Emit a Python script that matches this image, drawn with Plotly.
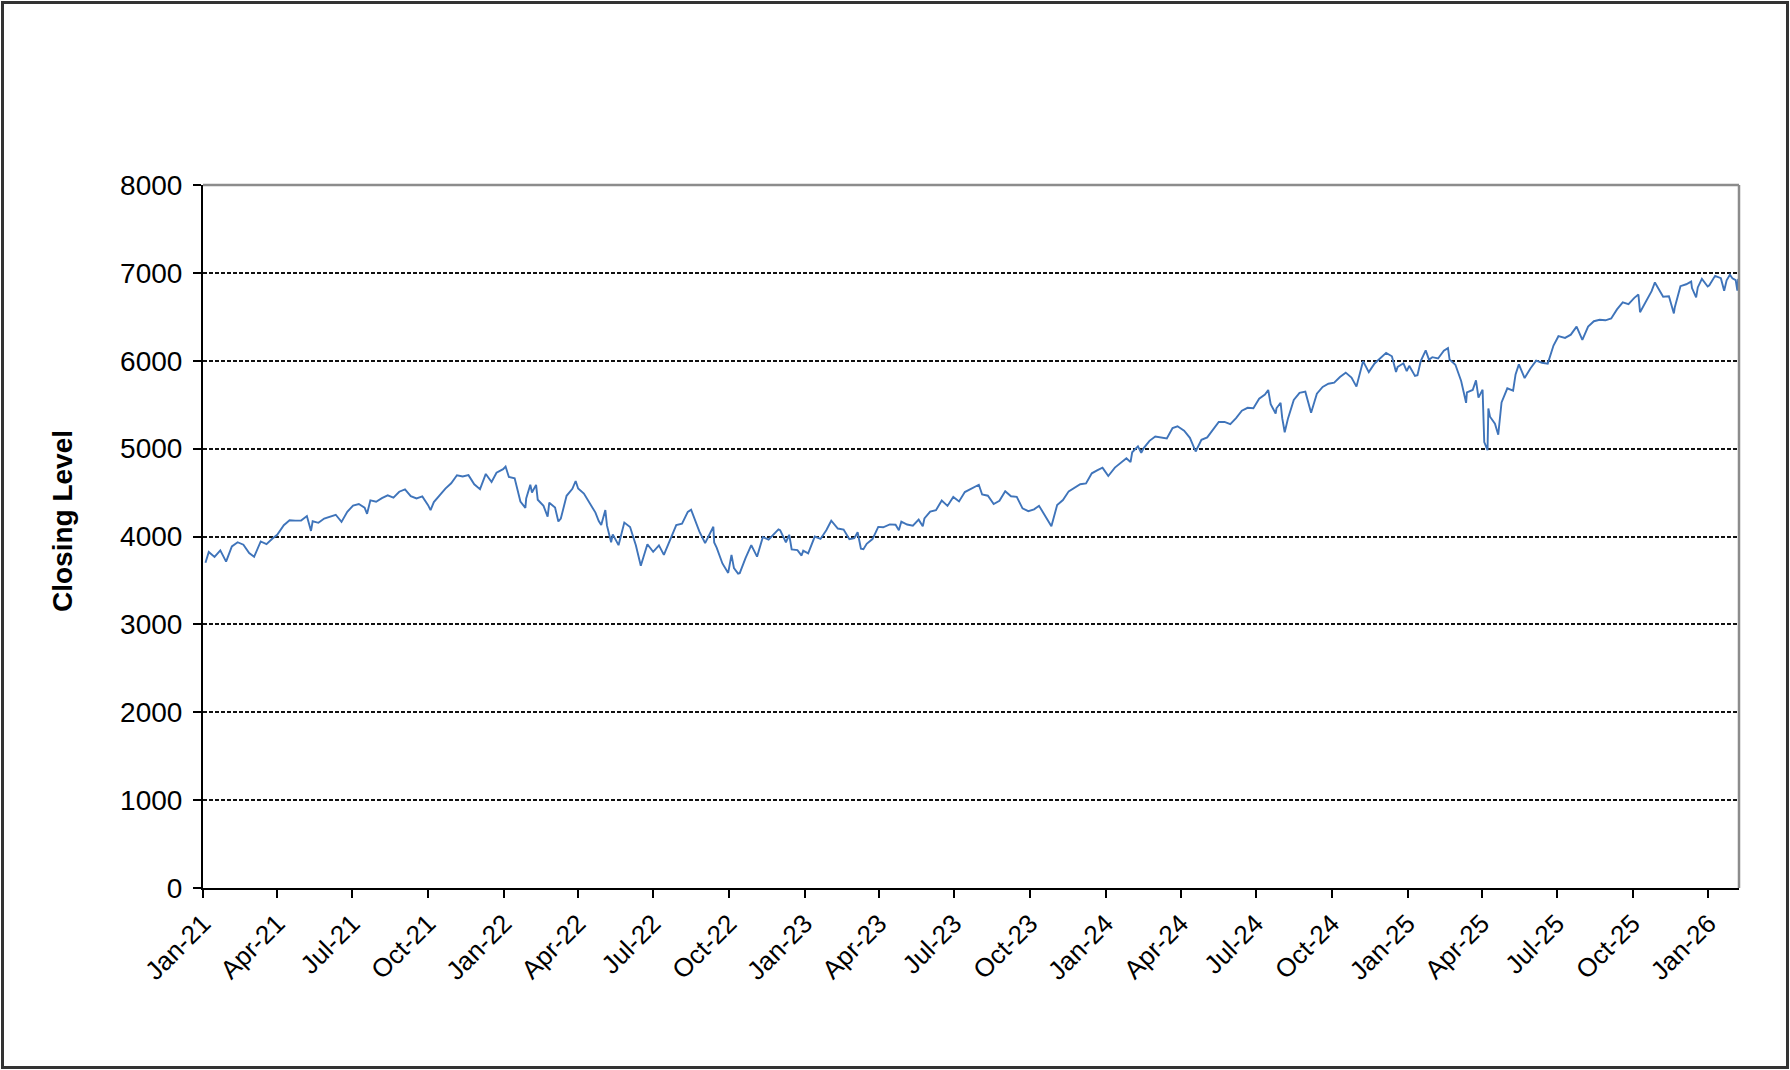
import plotly.graph_objects as go
import pandas as pd

# ---- data (closing level of the index) ----
dates_2021 = ["2021-01-04","2021-01-08","2021-01-15","2021-01-22","2021-01-29","2021-02-05","2021-02-12","2021-02-19","2021-02-26","2021-03-04","2021-03-12","2021-03-19","2021-03-26","2021-04-01","2021-04-09","2021-04-16","2021-04-23","2021-04-30","2021-05-07","2021-05-12","2021-05-14","2021-05-21","2021-05-28","2021-06-04","2021-06-11","2021-06-18","2021-06-25","2021-07-02","2021-07-09","2021-07-16","2021-07-19","2021-07-23","2021-07-30","2021-08-06","2021-08-13","2021-08-20","2021-08-27","2021-09-03","2021-09-10","2021-09-17","2021-09-24","2021-10-01","2021-10-04","2021-10-08","2021-10-15","2021-10-22","2021-10-29","2021-11-05","2021-11-12","2021-11-19","2021-11-26","2021-12-03","2021-12-10","2021-12-17","2021-12-23","2021-12-31"]
close_2021 = [3700.65,3824.68,3768.25,3841.47,3714.24,3886.83,3934.83,3906.71,3811.15,3768.47,3943.34,3913.10,3974.54,4019.87,4128.80,4185.47,4180.17,4181.17,4232.60,4063.04,4173.85,4155.86,4204.11,4229.89,4247.44,4166.45,4280.70,4352.34,4369.55,4327.16,4258.49,4411.79,4395.26,4436.52,4468.00,4441.67,4509.37,4535.43,4458.58,4432.99,4455.48,4357.04,4300.46,4391.34,4471.37,4544.90,4605.38,4697.53,4682.85,4697.96,4594.62,4538.43,4712.02,4620.64,4725.79,4766.18]

dates_2022 = ["2022-01-03","2022-01-07","2022-01-14","2022-01-21","2022-01-27","2022-01-28","2022-02-02","2022-02-04","2022-02-09","2022-02-11","2022-02-18","2022-02-23","2022-02-25","2022-03-04","2022-03-08","2022-03-11","2022-03-18","2022-03-25","2022-03-29","2022-04-01","2022-04-08","2022-04-14","2022-04-22","2022-04-26","2022-04-29","2022-05-04","2022-05-06","2022-05-11","2022-05-13","2022-05-20","2022-05-27","2022-06-03","2022-06-10","2022-06-16","2022-06-24","2022-07-01","2022-07-08","2022-07-14","2022-07-22","2022-07-29","2022-08-05","2022-08-12","2022-08-16","2022-08-19","2022-08-26","2022-09-02","2022-09-09","2022-09-12","2022-09-13","2022-09-16","2022-09-23","2022-09-30","2022-10-04","2022-10-07","2022-10-12","2022-10-14","2022-10-21","2022-10-28","2022-11-04","2022-11-11","2022-11-18","2022-11-25","2022-11-30","2022-12-02","2022-12-09","2022-12-13","2022-12-16","2022-12-23","2022-12-28","2022-12-30"]
close_2022 = [4796.56,4677.03,4662.85,4397.94,4326.51,4431.85,4589.38,4500.53,4587.18,4418.64,4348.87,4225.50,4384.65,4328.87,4170.70,4204.31,4463.12,4543.06,4631.60,4545.86,4488.28,4392.59,4271.78,4175.20,4131.93,4300.17,4123.34,3935.18,4023.89,3901.36,4158.24,4108.54,3900.86,3666.77,3911.74,3825.33,3899.38,3790.38,3961.63,4130.29,4145.19,4280.15,4305.20,4228.48,4057.66,3924.26,4067.36,4110.41,3932.69,3873.33,3693.23,3585.62,3790.93,3639.66,3577.03,3583.07,3752.75,3901.06,3770.55,3992.93,3965.34,4026.12,4080.11,4071.70,3934.38,4019.65,3852.36,3844.82,3783.22,3839.50]

dates_2023 = ["2023-01-05","2023-01-13","2023-01-20","2023-01-27","2023-02-02","2023-02-10","2023-02-17","2023-02-24","2023-03-02","2023-03-06","2023-03-10","2023-03-13","2023-03-17","2023-03-24","2023-03-31","2023-04-06","2023-04-14","2023-04-21","2023-04-25","2023-04-28","2023-05-05","2023-05-12","2023-05-19","2023-05-24","2023-05-26","2023-06-02","2023-06-09","2023-06-16","2023-06-23","2023-06-30","2023-07-07","2023-07-14","2023-07-21","2023-07-31","2023-08-04","2023-08-11","2023-08-18","2023-08-25","2023-09-01","2023-09-08","2023-09-15","2023-09-22","2023-09-29","2023-10-06","2023-10-12","2023-10-20","2023-10-27","2023-11-03","2023-11-10","2023-11-17","2023-11-24","2023-12-01","2023-12-08","2023-12-15","2023-12-22","2023-12-28","2023-12-29"]
close_2023 = [3808.10,3999.09,3972.61,4070.56,4179.76,4090.46,4079.09,3970.04,3981.35,4048.42,3861.59,3855.76,3916.64,3970.99,4109.31,4105.02,4137.64,4133.52,4071.63,4169.48,4136.25,4124.08,4191.98,4115.24,4205.45,4282.37,4298.86,4409.59,4348.33,4450.38,4398.95,4505.42,4536.34,4588.96,4478.03,4464.05,4369.71,4405.71,4515.77,4457.49,4450.32,4320.06,4288.05,4308.50,4349.61,4224.16,4117.37,4358.34,4415.24,4514.02,4559.34,4594.63,4604.37,4719.19,4754.63,4783.35,4769.83]

dates_2024 = ["2024-01-04","2024-01-12","2024-01-19","2024-01-26","2024-01-31","2024-02-02","2024-02-09","2024-02-13","2024-02-16","2024-02-23","2024-03-01","2024-03-08","2024-03-15","2024-03-22","2024-03-28","2024-04-05","2024-04-12","2024-04-19","2024-04-26","2024-05-03","2024-05-10","2024-05-17","2024-05-24","2024-05-31","2024-06-07","2024-06-14","2024-06-21","2024-06-28","2024-07-05","2024-07-12","2024-07-16","2024-07-19","2024-07-25","2024-07-26","2024-07-31","2024-08-02","2024-08-05","2024-08-09","2024-08-16","2024-08-23","2024-08-30","2024-09-06","2024-09-13","2024-09-20","2024-09-27","2024-10-04","2024-10-11","2024-10-18","2024-10-25","2024-10-31","2024-11-08","2024-11-15","2024-11-22","2024-11-29","2024-12-06","2024-12-13","2024-12-18","2024-12-20","2024-12-27","2024-12-31"]
close_2024 = [4688.68,4783.83,4839.81,4890.97,4845.65,4958.61,5026.61,4953.17,5005.57,5088.80,5137.08,5123.69,5117.09,5234.18,5254.35,5204.34,5123.41,4967.23,5099.96,5127.79,5222.68,5303.27,5304.72,5277.51,5346.99,5431.60,5464.62,5460.48,5567.19,5615.35,5667.20,5505.00,5399.22,5459.10,5522.30,5346.56,5186.33,5344.16,5554.25,5634.61,5648.40,5408.42,5626.02,5702.55,5738.17,5751.07,5815.03,5864.67,5808.12,5705.45,5995.54,5870.62,5969.34,6032.38,6090.27,6051.09,5872.16,5930.85,5970.84,5881.63]

dates_2025 = ["2025-01-03","2025-01-10","2025-01-13","2025-01-17","2025-01-23","2025-01-27","2025-01-31","2025-02-07","2025-02-14","2025-02-19","2025-02-21","2025-02-28","2025-03-07","2025-03-13","2025-03-14","2025-03-21","2025-03-25","2025-03-28","2025-04-02","2025-04-04","2025-04-08","2025-04-09","2025-04-11","2025-04-17","2025-04-21","2025-04-25","2025-05-02","2025-05-09","2025-05-12","2025-05-16","2025-05-23","2025-05-30","2025-06-06","2025-06-13","2025-06-20","2025-06-27","2025-07-03","2025-07-11","2025-07-18","2025-07-25","2025-08-01","2025-08-08","2025-08-15","2025-08-22","2025-08-29","2025-09-05","2025-09-12","2025-09-19","2025-09-26","2025-10-03","2025-10-08","2025-10-10","2025-10-17","2025-10-24","2025-10-28","2025-10-31","2025-11-07","2025-11-14","2025-11-20","2025-11-21","2025-11-28","2025-12-05","2025-12-11","2025-12-12","2025-12-17","2025-12-19","2025-12-24","2025-12-31"]
close_2025 = [5942.47,5827.04,5836.22,5996.66,6118.71,6012.28,6040.53,6025.99,6114.63,6144.15,6013.13,5954.50,5770.20,5521.52,5638.94,5667.56,5776.65,5580.94,5670.97,5074.08,4982.77,5456.90,5363.36,5282.70,5158.20,5525.21,5686.67,5659.91,5844.19,5958.38,5802.82,5911.69,6000.36,5976.97,5967.84,6173.07,6279.35,6259.75,6296.79,6388.64,6238.01,6389.45,6449.80,6466.91,6460.26,6481.50,6584.29,6664.36,6643.70,6715.79,6753.72,6552.51,6664.01,6791.69,6890.89,6840.20,6728.80,6734.11,6538.76,6602.99,6849.09,6870.40,6901.00,6827.41,6721.43,6834.50,6932.05,6845.50]

dates_2026 = ["2026-01-02","2026-01-09","2026-01-16","2026-01-20","2026-01-23","2026-01-27","2026-01-30","2026-02-03","2026-02-05","2026-02-06"]
close_2026 = [6858.47,6966.28,6940.01,6796.86,6915.61,6978.03,6939.03,6917.81,6798.40,6932.30]

y_ticks = [0, 1000, 2000, 3000, 4000, 5000, 6000, 7000, 8000]
y_title = "Closing Level"

dates = pd.to_datetime(dates_2021 + dates_2022 + dates_2023 + dates_2024 + dates_2025 + dates_2026)
closes = close_2021 + close_2022 + close_2023 + close_2024 + close_2025 + close_2026

# ---- layout geometry (pixels) ----
W, H = 1790, 1070
L, R, T, B = 203, 51, 185, 182
pw, ph = W - L - R, H - T - B

def px_x(p):
    return (p - L) / pw

def px_y(p):
    return (H - B - p) / ph

FONT = "Liberation Sans, Arial, sans-serif"

fig = go.Figure()
fig.add_trace(go.Scatter(
    x=dates, y=closes, mode="lines",
    line=dict(color="#3F74BA", width=1.9),
    hoverinfo="skip", showlegend=False,
))

fig.update_layout(
    width=W, height=H,
    margin=dict(l=L, r=R, t=T, b=B, pad=0),
    paper_bgcolor="white", plot_bgcolor="white",
    font=dict(family=FONT, color="#000000"),
    showlegend=False,
    xaxis=dict(
        type="date",
        range=["2021-01-01", "2026-02-07"],
        tick0="2021-01-01", dtick="M3", tickformat="%b-%y",
        tickangle=-45,
        ticks="outside", ticklen=8, tickwidth=2, tickcolor="#000000",
        showline=True, linecolor="#000000", linewidth=2,
        showgrid=False, zeroline=False,
        tickfont=dict(family=FONT, size=26, color="#000000"),
    ),
    yaxis=dict(
        range=[0, 8000],
        tickvals=y_ticks,
        ticks="outside", ticklen=8, tickwidth=2, tickcolor="#000000",
        showline=True, linecolor="#000000", linewidth=2,
        showgrid=True, gridcolor="#111111", gridwidth=2, griddash="4px,2px",
        zeroline=False,
        tickfont=dict(family=FONT, size=28, color="#000000"),
        ticklabelstandoff=5,
    ),
    shapes=[
        # plot-area border (top and right) in grey
        dict(type="line", xref="paper", yref="paper", x0=0, x1=1, y0=1, y1=1,
             line=dict(color="#8C8C8C", width=2.5), layer="above"),
        dict(type="line", xref="paper", yref="paper", x0=1, x1=1, y0=0, y1=1,
             line=dict(color="#8C8C8C", width=2.5), layer="above"),
        # outer chart border
        dict(type="rect", xref="paper", yref="paper",
             x0=px_x(2.5), x1=px_x(1787.5), y0=px_y(1067.5), y1=px_y(2.5),
             line=dict(color="#333333", width=3), fillcolor="rgba(0,0,0,0)", layer="above"),
    ],
    annotations=[
        dict(text="<b>" + y_title + "</b>", xref="paper", yref="paper",
             x=px_x(62), y=px_y(521), xanchor="center", yanchor="middle",
             textangle=-90, showarrow=False,
             font=dict(family=FONT, size=28, color="#000000")),
    ],
)

fig.write_html("out.html", config={"displayModeBar": False},
               post_script="document.body.style.margin='0';document.body.style.overflow='hidden';")
